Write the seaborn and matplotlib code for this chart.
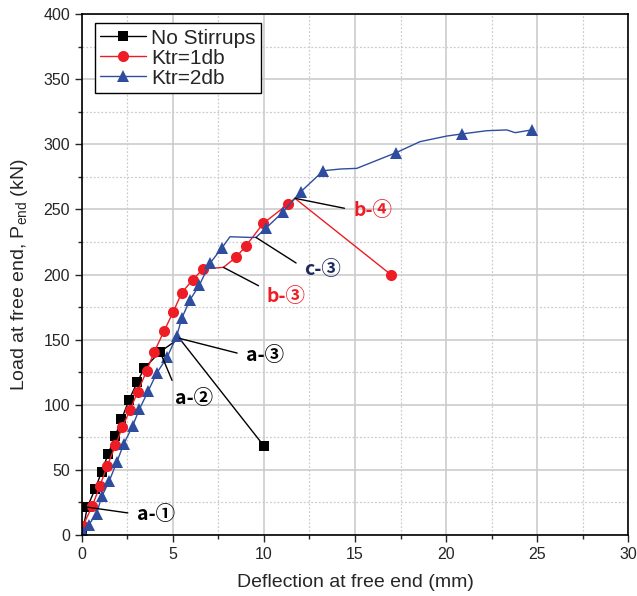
import numpy as np
import pandas as pd
import matplotlib
matplotlib.use("Agg")
import matplotlib.pyplot as plt
from matplotlib.ticker import MultipleLocator
import seaborn as sns

# DATA

# No stirrups
ns_defl = [0, 0.29, 0.72, 1.08, 1.44, 1.83, 2.17, 2.58, 3.04, 3.42, 4.29, 5.35, 10.0]
ns_load = [0, 21.4, 35.2, 48.6, 62.3, 76.2, 88.7, 103.6, 117.4, 128.0, 140.7, 151.0, 68.3]
ns_marks = [0, 1, 2, 3, 4, 5, 6, 7, 8, 9, 10, 12]

# Ktr = 1db
k1_defl = [0.05, 0.57, 0.98, 1.38, 1.84, 2.22, 2.64, 3.06, 3.55, 3.96, 4.52, 5.02,
           5.48, 6.09, 6.65, 7.77, 8.46, 9.01, 9.96, 11.3, 11.7, 17.0]
k1_load = [7.0, 22.4, 37.6, 52.8, 68.8, 83.0, 96.0, 110.0, 125.9, 140.3, 156.9, 171.5,
           186.0, 196.0, 204.3, 205.5, 213.2, 222.0, 239.3, 253.8, 258.5, 199.6]
k1_marks = [i for i in range(len(k1_defl)) if i not in (15, 20)]

# Ktr = 2db
k2_defl = [0.04, 0.38, 0.80, 1.09, 1.50, 1.92, 2.29, 2.79, 3.15, 3.64, 4.10, 4.69,
           5.20, 5.48, 5.93, 6.45, 7.03, 7.67, 8.13, 9.19, 9.56, 10.10, 11.06, 12.02,
           13.26, 14.20, 15.10, 17.25, 18.57, 20.04, 20.86, 22.24, 23.34, 23.80, 24.70]
k2_load = [2.5, 8.0, 16.5, 29.7, 41.5, 56.3, 69.7, 84.0, 96.5, 110.6, 124.1, 136.9,
           152.5, 166.4, 180.4, 191.9, 208.6, 220.1, 229.0, 228.5, 228.5, 235.5, 248.2, 263.5,
           279.7, 281.0, 281.5, 293.5, 302.0, 306.3, 307.9, 310.4, 311.0, 308.9, 311.0]
k2_marks = [i for i in range(len(k2_defl)) if i not in (18, 19, 20, 25, 26, 28, 29, 31, 32, 33)]

BLACK = "black"
RED = "#ee1c25"
BLUE = "#2e4d9e"
NAVY = "#1c2a5e"

# PLOT

sns.set_style("ticks")
plt.rcParams["font.family"] = ["Liberation Sans", "DejaVu Sans"]

fig = plt.figure(figsize=(6.37, 5.96), dpi=100)
ax = fig.add_axes([0.1287, 0.1023, 0.8572, 0.8742])

ax.xaxis.set_major_locator(MultipleLocator(5))
ax.xaxis.set_minor_locator(MultipleLocator(2.5))
ax.yaxis.set_major_locator(MultipleLocator(50))
ax.yaxis.set_minor_locator(MultipleLocator(25))
ax.grid(which="major", color="#cccccc", lw=1.2, ls="-")
ax.grid(which="minor", color="#cccccc", lw=0.9, ls=(0, (1.5, 1.5)))
ax.set_axisbelow(True)

sns.lineplot(x=ns_defl, y=ns_load, sort=False, estimator=None, ax=ax,
             color="black", lw=1.0, marker="s", markersize=6.5, markevery=ns_marks,
             markeredgewidth=0, label="No Stirrups")
sns.lineplot(x=k1_defl, y=k1_load, sort=False, estimator=None, ax=ax,
             color=RED, lw=1.0, marker="o", markersize=8, markevery=k1_marks,
             markeredgewidth=0, label="Ktr=1db")
sns.lineplot(x=k2_defl, y=k2_load, sort=False, estimator=None, ax=ax,
             color=BLUE, lw=1.0, marker="^", markersize=8.5, markevery=k2_marks,
             markeredgewidth=0, label="Ktr=2db")

ax.set_xlim(0, 30)
ax.set_ylim(0, 400)

ax.tick_params(which="major", direction="out", length=5, width=1, labelsize=11.5,
               top=False, right=False)
ax.tick_params(which="minor", direction="out", length=3, width=1, top=False, right=False)
for s in ax.spines.values():
    s.set_color("black")
    s.set_linewidth(1.2)

ax.set_xlabel("Deflection at free end (mm)", fontsize=14, labelpad=9)
ax.set_ylabel("Load at free end, P$_{\\mathregular{end}}$ (kN)", fontsize=14, labelpad=10)

leg = ax.legend(loc="upper left", bbox_to_anchor=(0.024, 0.982), fontsize=15,
                handlelength=2.2, handletextpad=0.25, borderpad=0.25,
                labelspacing=0.05, borderaxespad=0, fancybox=False, framealpha=1)
leg.get_frame().set_edgecolor("black")
leg.get_frame().set_linewidth(1.0)

# annotations
lab_font = dict(family=["Noto Sans CJK KR", "DejaVu Sans"], weight="bold", fontsize=14)
notes = [
    ("a-①", (ns_defl[1], ns_load[1]), (3.0, 16), BLACK, (0, 0.5)),
    ("a-②", (ns_defl[10], ns_load[10]), (5.1, 105), BLACK, (0.03, 0.95)),
    ("a-③", (ns_defl[11], ns_load[11]), (9.0, 138), BLACK, (0, 0.5)),
    ("b-③", (k1_defl[15], k1_load[15]), (10.15, 183), RED, (0, 0.85)),
    ("c-③", (k2_defl[20], k2_load[20]), (12.2, 203.5), NAVY, (0, 0.6)),
    ("b-④", (k1_defl[20], k1_load[20]), (14.9, 249.5), RED, (0, 0.5)),
]
for txt, xy, xyt, col, rp in notes:
    ax.annotate(txt, xy=xy, xytext=xyt, color=col, ha="left", va="center",
                arrowprops=dict(arrowstyle="-", color="black", lw=1.0,
                                shrinkA=4, shrinkB=0, relpos=rp),
                **lab_font)

fig.savefig("out.png", dpi=100)
